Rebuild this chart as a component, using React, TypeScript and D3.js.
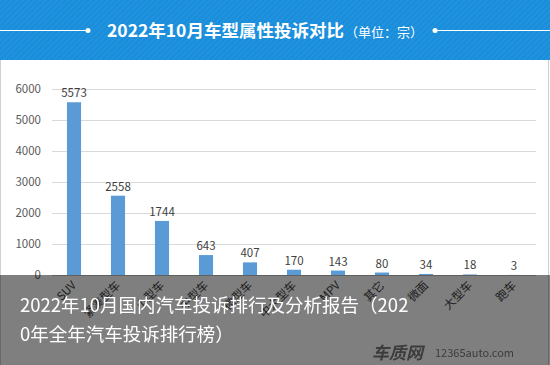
import React from "react";
import * as d3 from "d3";

const categories = ["SUV", "紧凑型车", "小型车", "中型车", "微型车", "中大型车", "MPV", "其它", "微面", "大型车", "跑车"];
const values = [5573, 2558, 1744, 643, 407, 170, 143, 80, 34, 18, 3];
const yTicks = [0, 1000, 2000, 3000, 4000, 5000, 6000];
const title = "2022年10月车型属性投诉对比";
const unit = "（单位：宗）";
const captionLines = ["2022年10月国内汽车投诉排行及分析报告（202", "0年全年汽车投诉排行榜）"];

const W = 550, H = 365;
const FONT = "'Noto Sans CJK SC', 'Noto Sans', sans-serif";

export default function App() {
  const x = d3.scaleBand<string>().domain(categories).range([52, 536]).paddingInner(0.68).paddingOuter(0.34);
  const y = d3.scaleLinear().domain([0, 6000]).range([275, 89]);
  const bw = x.bandwidth();
  return (
    <div style={{ position: "fixed", left: 0, top: 0 }}>
      <svg width={W} height={H} style={{ display: "block", fontFamily: FONT }}>
        <defs>
          <pattern id="stripes" width="4" height="4" patternUnits="userSpaceOnUse" patternTransform="rotate(45)">
            <rect width="4" height="4" fill="#1a8edb" />
            <line x1="0" y1="0" x2="0" y2="4" stroke="#2a98e2" strokeWidth="1.5" />
          </pattern>
        </defs>
        <rect x={0} y={0} width={W} height={H} fill="#ffffff" />
        <rect x={0.5} y={55} width={548} height={H} fill="#fff" stroke="#d0d0d0" />
        {/* header */}
        <rect x={0} y={0} width={W} height={60} fill="url(#stripes)" />
        <line x1={0} x2={88} y1={30.5} y2={30.5} stroke="#ffffff" strokeWidth={1} />
        <circle cx={88} cy={30.5} r={2.5} fill="#fff" />
        <line x1={435} x2={W} y1={30.5} y2={30.5} stroke="#ffffff" strokeWidth={1} />
        <circle cx={435} cy={30.5} r={2.5} fill="#fff" />
        <text x={107} y={37} fill="#fff" fontSize={17.5} fontWeight="bold">
          {title}
          <tspan fontSize={13} fontWeight="normal" dx={1}>{unit}</tspan>
        </text>
        {/* grid */}
        {yTicks.map((t) => (
          <g key={t}>
            {t > 0 && <line x1={52} x2={536} y1={y(t) + 0.5} y2={y(t) + 0.5} stroke="#d9d9d9" strokeWidth={1} />}
            <text x={41} y={y(t) + 4} textAnchor="end" fontSize={11.5} fill="#595959">{t}</text>
          </g>
        ))}
        <line x1={52} x2={536} y1={y(0) + 0.5} y2={y(0) + 0.5} stroke="#bfbfbf" />
        {/* bars */}
        {categories.map((c, i) => (
          <g key={c}>
            <rect x={x(c)!} y={y(values[i])} width={bw} height={y(0) - y(values[i])} fill="#5b9bd5" />
            <text x={x(c)! + bw / 2} y={y(values[i]) - 5} textAnchor="middle" fontSize={11.5} fill="#404040">{values[i]}</text>
            <text
              transform={`translate(${x(c)! + bw / 2 + 3},${y(0) + 11}) rotate(-45)`}
              textAnchor="end"
              fontSize={11.5}
              fill="#404040"
            >{c}</text>
          </g>
        ))}
        {/* overlay */}
        <rect x={0} y={275} width={W} height={H - 275} fill="rgba(0,0,0,0.5)" />
        {captionLines.map((l, i) => (
          <text key={i} x={20} y={312 + i * 29} fill="#ffffff" fontSize={18.5}>{l}</text>
        ))}
        <text x={372} y={359} fill="#3c3c3c" fontSize={17} fontWeight="bold" fontStyle="italic">车质网</text>
        <text x={435} y={357} fill="#3c3c3c" fontSize={11}>12365auto.com</text>
      </svg>
    </div>
  );
}
